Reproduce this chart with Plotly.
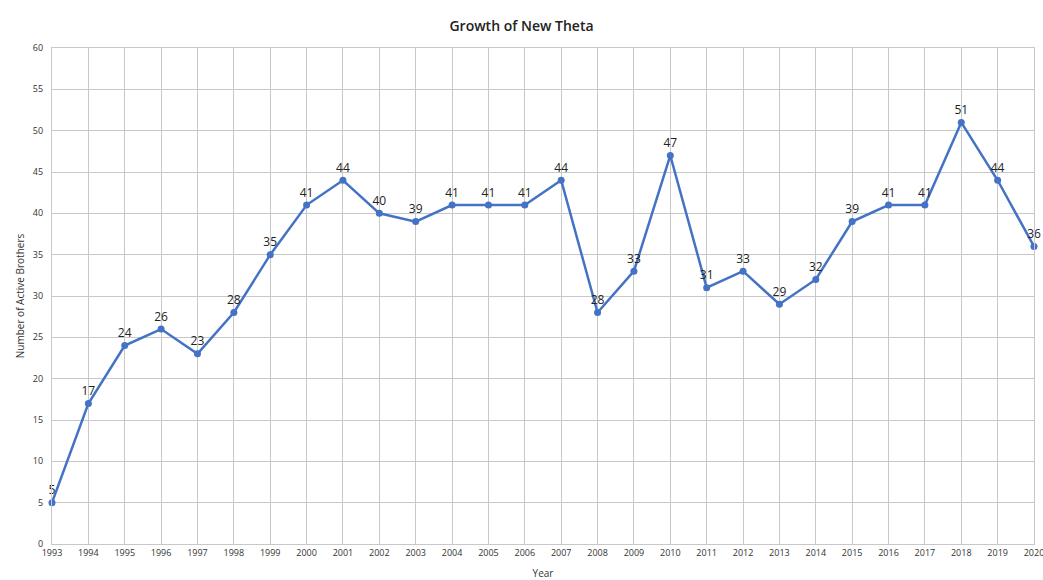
import plotly.graph_objects as go

years = list(range(1993, 2021))
brothers = [5, 17, 24, 26, 23, 28, 35, 41, 44, 40, 39, 41, 41, 41, 44,
            28, 33, 47, 31, 33, 29, 32, 39, 41, 41, 51, 44, 36]
y_ticks = list(range(0, 61, 5))

fig = go.Figure()
fig.add_trace(go.Scatter(
    x=years, y=brothers,
    mode="lines+markers+text",
    text=[str(v) for v in brothers],
    textposition="top center",
    textfont=dict(family="Open Sans, Noto Sans, sans-serif", size=12, color="#222222"),
    line=dict(color="#4472C4", width=2.5),
    marker=dict(color="#4472C4", size=7),
    cliponaxis=False,
    showlegend=False,
))

fig.update_layout(
    width=1043, height=580,
    margin=dict(l=52, r=9, t=48, b=36),
    paper_bgcolor="white", plot_bgcolor="white",
    title=dict(text="Growth of New Theta", x=0.5, xanchor="center", y=0.955, yanchor="middle",
               font=dict(family="Open Sans, Noto Sans, sans-serif", size=14, color="#222222", weight=600)),
    font=dict(family="Open Sans, Noto Sans, sans-serif", color="#333333"),
)
fig.update_xaxes(
    range=[1993, 2020], tickmode="array", tickvals=years,
    ticktext=[str(y) for y in years],
    showgrid=True, gridcolor="#c8c8c8", gridwidth=1.3,
    showline=True, linecolor="#c8c8c8", linewidth=1.3, mirror=True,
    zeroline=False, tickfont=dict(size=9, color="#333333"),
    ticklabeloverflow="allow",
    title=dict(text="Year", font=dict(size=10, color="#333333"), standoff=12),
    automargin=False,
)
fig.update_yaxes(
    range=[0, 60], tickmode="array", tickvals=y_ticks,
    showgrid=True, gridcolor="#c8c8c8", gridwidth=1.3,
    showline=True, linecolor="#c8c8c8", linewidth=1.3, mirror=True,
    zeroline=False, tickfont=dict(size=9, color="#333333"), ticklabelstandoff=6,
    title=dict(text="Number of Active Brothers", font=dict(size=10, color="#333333"), standoff=6),
    automargin=False,
)

fig.write_html("out.html", config={"displayModeBar": False},
               post_script="document.body.style.margin='0';document.body.style.overflow='hidden';")
